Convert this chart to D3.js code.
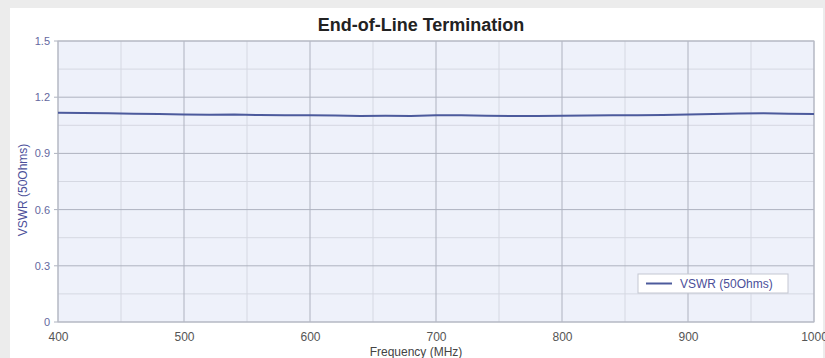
<!DOCTYPE html>
<html>
<head>
<meta charset="utf-8">
<script src="https://cdn.jsdelivr.net/npm/d3@7"></script>
<style>
  html, body { margin: 0; padding: 0; background: #ececec; }
  svg { display: block; }
</style>
</head>
<body>
<svg id="chart" width="825" height="358"></svg>
<script>
// measured VSWR readings, 400..1000 MHz every 20 MHz
const freqs = d3.range(400, 1001, 20);
const vswr = [1.117, 1.116, 1.114, 1.111, 1.110, 1.108, 1.106, 1.107, 1.105, 1.104,
              1.103, 1.102, 1.100, 1.101, 1.100, 1.104, 1.103, 1.101, 1.100, 1.099,
              1.101, 1.102, 1.104, 1.103, 1.105, 1.107, 1.110, 1.113, 1.114, 1.111, 1.110];
const xTicks = [400, 500, 600, 700, 800, 900, 1000];
const yTicks = [0, 0.3, 0.6, 0.9, 1.2, 1.5];
const seriesName = "VSWR (50Ohms)";

const margin = {left: 58, right: 11, top: 41, bottom: 36};
const W = 825, H = 358;
const width = W - margin.left - margin.right;
const height = H - margin.top - margin.bottom;
const font = "Liberation Sans, Arial, sans-serif";

const svg = d3.select("#chart");

// white panel
svg.append("rect").attr("x", 10).attr("y", 8).attr("width", W - 12).attr("height", H - 8)
  .attr("fill", "#ffffff");

svg.append("text")
  .attr("x", 421).attr("y", 31)
  .attr("text-anchor", "middle")
  .attr("font-family", font)
  .attr("font-weight", "bold").attr("font-size", 18)
  .attr("fill", "#222")
  .text("End-of-Line Termination");

const g = svg.append("g").attr("transform", "translate(" + margin.left + "," + margin.top + ")");

const x = d3.scaleLinear().domain([400, 1000]).range([0, width]);
const y = d3.scaleLinear().domain([0, 1.5]).range([height, 0]);

g.append("rect").attr("width", width).attr("height", height).attr("fill", "#eef1fa");

// minor grid
g.append("g").selectAll("line").data(d3.range(450, 1000, 100)).enter().append("line")
  .attr("x1", d => x(d)).attr("x2", d => x(d)).attr("y1", 0).attr("y2", height)
  .attr("stroke", "#d5d8e2").attr("stroke-width", 1);
g.append("g").selectAll("line").data([0.15, 0.45, 0.75, 1.05, 1.35]).enter().append("line")
  .attr("y1", d => y(d)).attr("y2", d => y(d)).attr("x1", 0).attr("x2", width)
  .attr("stroke", "#d5d8e2").attr("stroke-width", 1);

// major grid
g.append("g").selectAll("line").data(xTicks).enter().append("line")
  .attr("x1", d => x(d)).attr("x2", d => x(d)).attr("y1", 0).attr("y2", height)
  .attr("stroke", "#aeb2bf").attr("stroke-width", 1);
g.append("g").selectAll("line").data(yTicks).enter().append("line")
  .attr("y1", d => y(d)).attr("y2", d => y(d)).attr("x1", -4).attr("x2", width)
  .attr("stroke", "#aeb2bf").attr("stroke-width", 1);

g.append("rect").attr("width", width).attr("height", height)
  .attr("fill", "none").attr("stroke", "#b8bbc6");

// tick labels
const xAxis = g.append("g").attr("transform", "translate(0," + height + ")")
  .call(d3.axisBottom(x).tickValues(xTicks).tickSize(0).tickPadding(10).tickFormat(d3.format("d")));
xAxis.select(".domain").remove();
xAxis.selectAll("text").attr("font-family", font)
  .attr("font-size", 12).attr("fill", "#555");

const yAxis = g.append("g")
  .call(d3.axisLeft(y).tickValues(yTicks).tickSize(0).tickPadding(8).tickFormat(d => d === 0 ? "0" : d3.format(".1f")(d)));
yAxis.select(".domain").remove();
yAxis.selectAll("text").attr("font-family", font)
  .attr("font-size", 11).attr("fill", "#6468a0");

svg.append("text")
  .attr("x", 416).attr("y", 356)
  .attr("text-anchor", "middle")
  .attr("font-family", font)
  .attr("font-size", 12).attr("fill", "#444")
  .text("Frequency (MHz)");

svg.append("text")
  .attr("transform", "translate(27,190) rotate(-90)")
  .attr("text-anchor", "middle")
  .attr("font-family", font)
  .attr("font-size", 12).attr("fill", "#4b4f9a")
  .text("VSWR (50Ohms)");

// series line
const line = d3.line().x((d, i) => x(freqs[i])).y(d => y(d));
g.append("path").datum(vswr)
  .attr("d", line)
  .attr("fill", "none").attr("stroke", "#4c5a9c").attr("stroke-width", 2);

// legend
const lg = svg.append("g").attr("transform", "translate(638,274)");
lg.append("rect").attr("width", 150).attr("height", 19)
  .attr("fill", "#ffffff").attr("stroke", "#c4c7d2");
lg.append("line").attr("x1", 8).attr("x2", 34).attr("y1", 9.5).attr("y2", 9.5)
  .attr("stroke", "#4c5a9c").attr("stroke-width", 2);
lg.append("text").attr("x", 42).attr("y", 14)
  .attr("font-family", font)
  .attr("font-size", 12).attr("fill", "#4b4f9a")
  .text(seriesName);
</script>
</body>
</html>
